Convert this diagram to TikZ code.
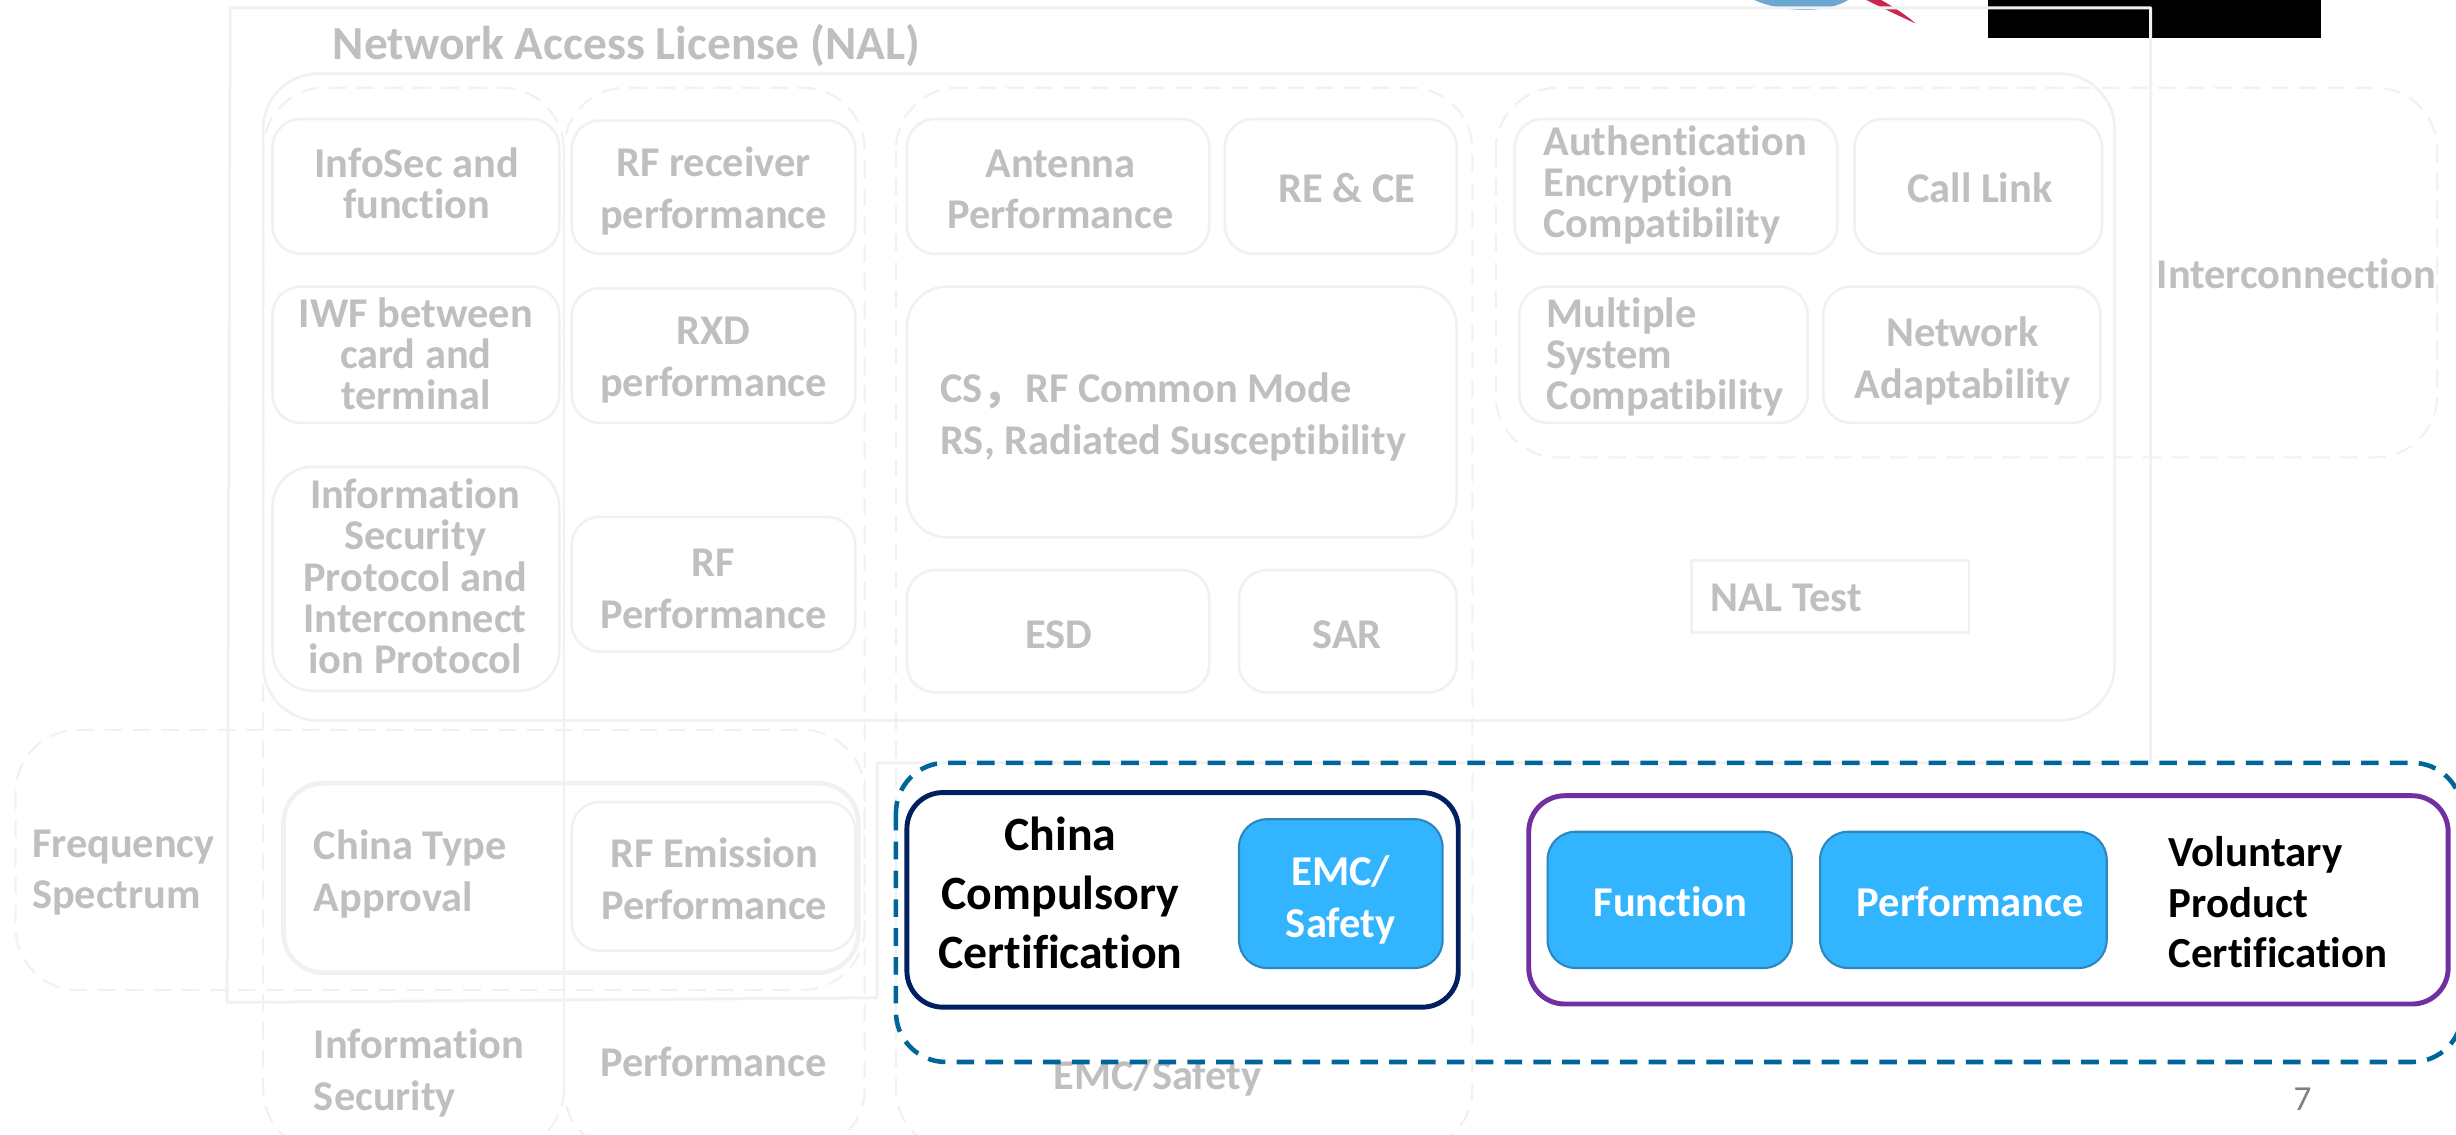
\documentclass[tikz,border=0pt]{standalone}
\usepackage{fontspec}
\setmainfont[Ligatures=NoCommon]{Carlito}
\newfontfamily\cjk{Noto Sans CJK SC}
\definecolor{softline}{HTML}{F1F1F1}
\definecolor{softtext}{HTML}{BFBFBF}
\definecolor{dashblue}{HTML}{006699}
\definecolor{navyline}{HTML}{002060}
\definecolor{purpleline}{HTML}{7030A0}
\definecolor{skyfill}{HTML}{33B4FF}
\definecolor{skyline}{HTML}{2E86BE}
\definecolor{logoblue}{HTML}{6BA7D2}
\definecolor{logored}{HTML}{C8284E}
\tikzset{
    softbox/.style={draw=softline,line width=0.75pt,rounded corners=0.28cm},
    softzone/.style={draw=softline,line width=0.6pt,dash pattern=on 5pt off 3pt,rounded corners=0.62cm},
    softlabel/.style={text=softtext,font=\bfseries\fontsize{12.05}{14.7}\selectfont,align=center,inner sep=0pt},
    softtight/.style={softlabel,font=\bfseries\fontsize{12.05}{11.7}\selectfont},
    softleft/.style={softlabel,align=left,anchor=west},
    darklabel/.style={text=black,font=\bfseries\fontsize{13.6}{16.7}\selectfont,align=center,inner sep=0pt},
    skybox/.style={draw=skyline,fill=skyfill,line width=0.6pt,rounded corners=0.28cm},
    skylabel/.style={text=white,font=\bfseries\fontsize{12.1}{14.7}\selectfont,align=center,inner sep=0pt},
}
\begin{document}
\begin{tikzpicture}[x=0.015663cm,y=-0.015663cm,line join=round]
\clip (0,0) rectangle (1568,724);
\fill[white] (0,0) rectangle (1568,724);

% logo and black strip at the top edge
\fill[black] (1269,-5) rectangle (1482,24);
\fill[logoblue] (1112,-5) .. controls (1125,7) and (1170,13) .. (1186,-5) -- cycle;
\fill[logored] (1182,-5) -- (1192,-5) .. controls (1205,2) and (1215,8) .. (1223,15) .. controls (1210,9) and (1195,2) .. (1182,-5) -- cycle;

% outer licence outline
\draw[softline,line width=0.85pt] (147,5) -- (1373,5) -- (1373,487) -- (560,487) -- (560,637) -- (145,640) -- cycle;
\draw[softline,line width=0.75pt,rounded corners=0.55cm] (168,47) rectangle (1350,460);

% dashed zones
\draw[softzone] (168,56) rectangle (360,735);
\draw[softzone] (360,56) rectangle (552,735);
\draw[softzone] (572,56) rectangle (940,735);
\draw[softzone] (955,56) rectangle (1556,292);
\draw[softzone] (10,466) rectangle (552,632);

% NAL boxes
\draw[softbox] (174,76) rectangle (357,162);
\draw[softbox] (365,77) rectangle (546,162);
\draw[softbox] (174,183) rectangle (357,270);
\draw[softbox] (365,184) rectangle (546,270);
\draw[softbox,rounded corners=0.4cm] (174,298) rectangle (357,441);
\draw[softbox] (365,330) rectangle (546,416);
\draw[softbox] (579,76) rectangle (772,162);
\draw[softbox] (782,76) rectangle (930,162);
\draw[softbox,rounded corners=0.4cm] (579,183) rectangle (930,343);
\draw[softbox] (579,364) rectangle (772,442);
\draw[softbox] (791,364) rectangle (930,442);
\draw[softbox] (967,76) rectangle (1173,162);
\draw[softbox] (1184,76) rectangle (1342,162);
\draw[softbox] (970,183) rectangle (1154,270);
\draw[softbox] (1164,183) rectangle (1341,270);
\draw[softline,line width=0.75pt] (1080,358) rectangle (1257,404);
\draw[softbox,line width=1.3pt,rounded corners=0.4cm] (181,500) rectangle (548,621);
\draw[softbox] (365,512) rectangle (546,607);

\node[softlabel,anchor=west,font=\bfseries\fontsize{13.5}{15}\selectfont] (naltitle) at (212,29) {Network Access License (NAL)};
\node[softtight] (infosec) at (266,117) {InfoSec and\\function};
\node[softlabel] (rfreceiver) at (455.5,122) {RF receiver\\performance};
\node[softtight] (iwf) at (265.5,226) {IWF between\\card and\\terminal};
\node[softlabel] (rxd) at (455.5,230) {RXD\\performance};
\node[softtight] (protocol) at (265,368) {Information\\Security\\Protocol and\\Interconnect\\ion Protocol};
\node[softlabel] (rfperf) at (455.5,376) {RF\\Performance};
\node[softlabel] (antenna) at (677,121) {Antenna\\Performance};
\node[softlabel] (rece) at (860,120) {RE \& CE};
\node[softleft] (csrs) at (600,266) {CS{\cjk ，}RF Common Mode\\RS, Radiated Susceptibility};
\node[softlabel] (esd) at (676,405) {ESD};
\node[softlabel] (sar) at (860,405) {SAR};
\node[softleft,softtight,align=left] (auth) at (985,118) {Authentication\\Encryption\\Compatibility};
\node[softlabel] (calllink) at (1264,120) {Call Link};
\node[softleft,softtight,align=left] (multiple) at (987,228) {Multiple\\System\\Compatibility};
\node[softlabel] (netadapt) at (1253,230.5) {Network\\Adaptability};
\node[softlabel] (interconn) at (1466,175) {Interconnection};
\node[softlabel] (naltest) at (1140.5,382) {NAL Test};
\node[softleft] (freq) at (20,557) {Frequency\\Spectrum};
\node[softleft] (typeappr) at (200,558) {China Type\\Approval};
\node[softlabel] (rfemission) at (456,561) {RF Emission\\Performance};
\node[softleft] (infosecbot) at (200,685) {Information\\Security};
\node[softlabel] (perfbot) at (455.5,678) {Performance};
\node[softlabel] (emcbot) at (739,688) {EMC/Safety};

% coloured certification groups
\draw[dashblue,line width=1.3pt,dash pattern=on 5pt off 3.2pt,rounded corners=0.5cm] (572,487) rectangle (1572,678);
\draw[navyline,line width=1.4pt,rounded corners=0.36cm,fill=white] (579,506) rectangle (931,643);
\draw[purpleline,line width=1.4pt,rounded corners=0.36cm,fill=white] (976,508) rectangle (1563,641);
\draw[skybox] (791,523) rectangle (921,618);
\draw[skybox] (988,531) rectangle (1144,618);
\draw[skybox] (1162,531) rectangle (1345,618);

\node[darklabel] (ccc) at (677,570) {China\\Compulsory\\Certification};
\node[skylabel] (emc) at (856,574.5) {EMC/\\Safety};
\node[skylabel] (function) at (1066.5,576) {Function};
\node[skylabel] (performance) at (1258,576) {Performance};
\node[darklabel,align=left,anchor=west,font=\bfseries\fontsize{12.2}{14.3}\selectfont] (vpc) at (1384,576) {Voluntary\\Product\\Certification};
\node[text=black!50,font=\fontsize{10}{12}\selectfont,inner sep=0pt] (pageno) at (1470,702) {7};
\end{tikzpicture}
\end{document}
